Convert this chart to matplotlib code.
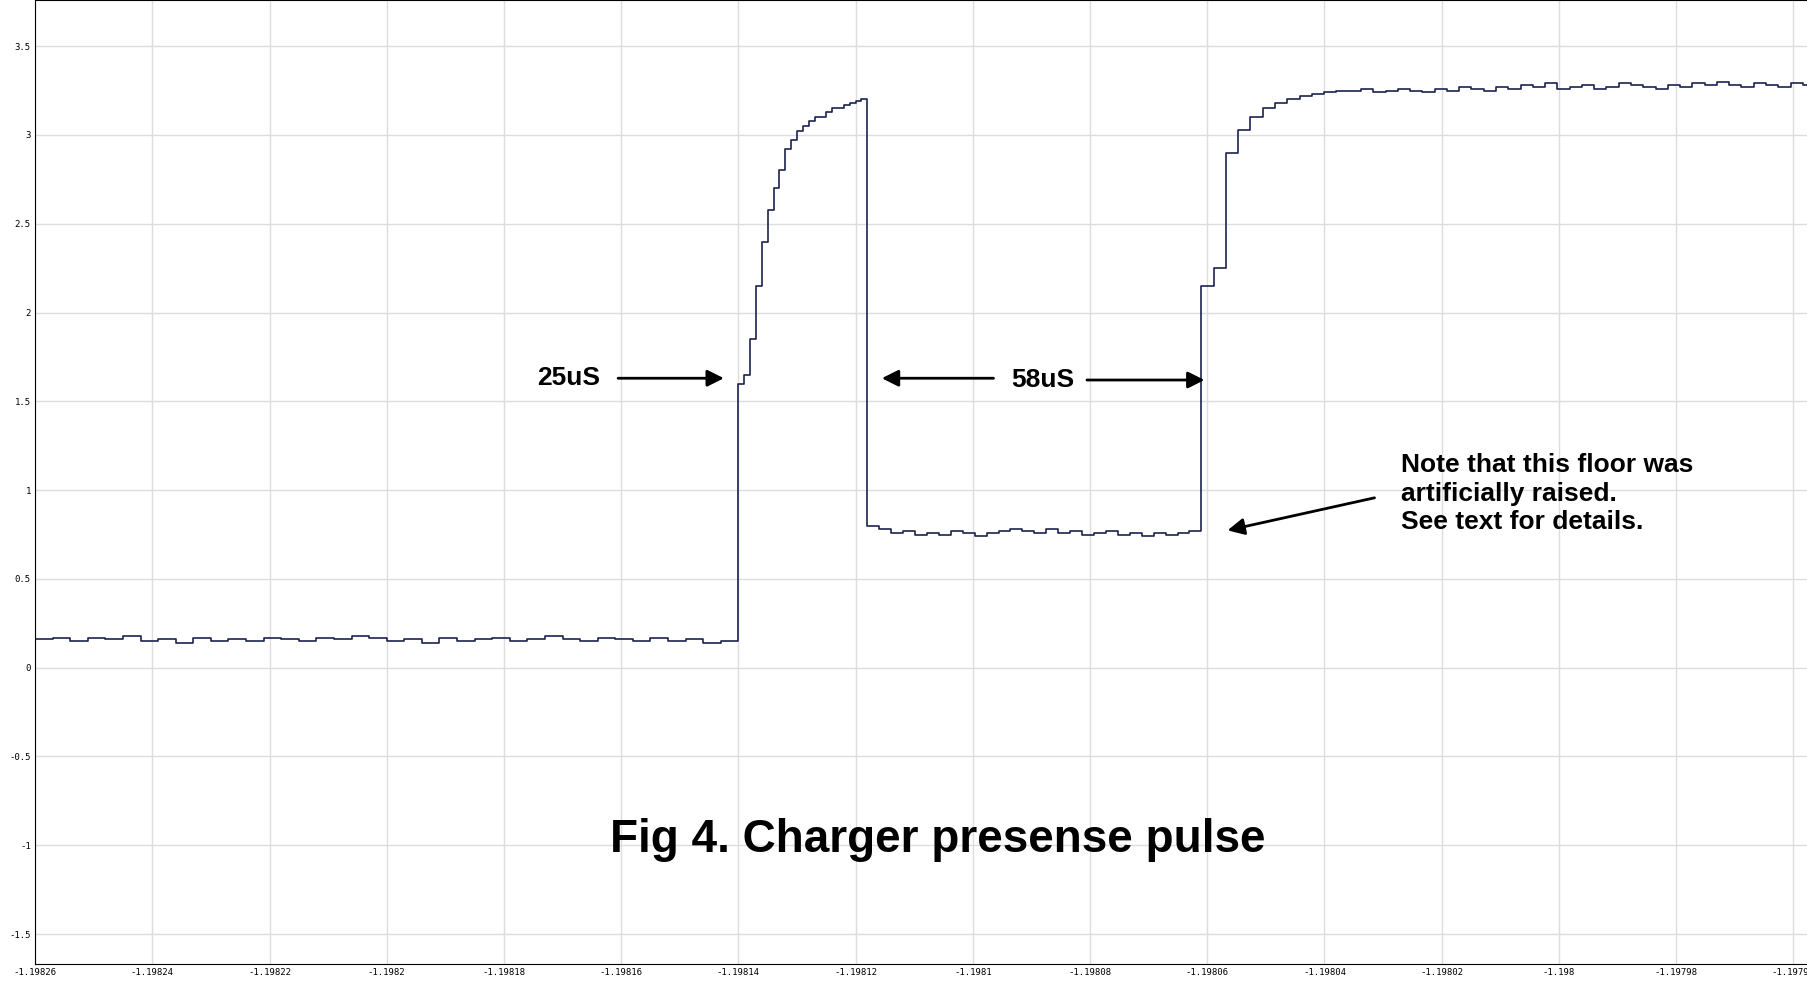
import numpy as np
import matplotlib.pyplot as plt

# edges of each section of the trace (seconds)
t_edges = [-1.19826, -1.19814, -1.198118, -1.198061, -1.19795]

# sampled voltages per section
low1 = [0.16, 0.17, 0.15, 0.17, 0.16, 0.18, 0.15, 0.16, 0.14, 0.17, 0.15, 0.16, 0.15, 0.17,
        0.16, 0.15, 0.17, 0.16, 0.18, 0.17, 0.15, 0.16, 0.14, 0.17, 0.15, 0.16, 0.17, 0.15,
        0.16, 0.18, 0.16, 0.15, 0.17, 0.16, 0.15, 0.17, 0.15, 0.16, 0.14, 0.15]
high1 = [1.6, 1.65, 1.85, 2.15, 2.4, 2.58, 2.7, 2.8, 2.92, 2.97, 3.02, 3.05, 3.08, 3.1,
         3.1, 3.13, 3.15, 3.15, 3.17, 3.18, 3.19, 3.2]
low2 = [0.8, 0.78, 0.76, 0.77, 0.75, 0.76, 0.75, 0.77, 0.76, 0.74, 0.76, 0.77, 0.78, 0.77,
        0.76, 0.78, 0.76, 0.77, 0.75, 0.76, 0.77, 0.75, 0.76, 0.74, 0.76, 0.75, 0.76, 0.77]
high2 = [2.15, 2.25, 2.9, 3.03, 3.1, 3.15, 3.18, 3.2, 3.22, 3.23, 3.24, 3.25, 3.25, 3.26,
         3.24, 3.25, 3.26, 3.25, 3.24, 3.26, 3.25, 3.27, 3.26, 3.25, 3.27, 3.26, 3.28, 3.27,
         3.29, 3.26, 3.27, 3.28, 3.26, 3.27, 3.29, 3.28, 3.27, 3.26, 3.28, 3.27, 3.29, 3.28,
         3.30, 3.28, 3.27, 3.29, 3.28, 3.27, 3.29, 3.28, 3.27, 3.29, 3.28]
sections = [low1, high1, low2, high2]

x_ticks = [-1.19826, -1.19824, -1.19822, -1.1982, -1.19818, -1.19816, -1.19814, -1.19812,
           -1.1981, -1.19808, -1.19806, -1.19804, -1.19802, -1.198, -1.19798, -1.19796]
x_tick_labels = ["-1.19826", "-1.19824", "-1.19822", "-1.1982", "-1.19818", "-1.19816",
                 "-1.19814", "-1.19812", "-1.1981", "-1.19808", "-1.19806", "-1.19804",
                 "-1.19802", "-1.198", "-1.19798", "-1.19796"]
y_ticks = [-1.5, -1, -0.5, 0, 0.5, 1, 1.5, 2, 2.5, 3, 3.5]

t_all, v_all = [], []
for i, vals in enumerate(sections):
    t = np.linspace(t_edges[i], t_edges[i + 1], len(vals), endpoint=False)
    t_all.extend(t)
    v_all.extend(vals)
t_all.append(t_edges[-1])
v_all.append(sections[-1][-1])

fig = plt.figure(figsize=(18.08, 9.91), dpi=100)
ax = fig.add_axes([0.0194, 0.027, 0.9806, 0.973])
ax.step(t_all, v_all, where="post", color="#1c2250", linewidth=1.2)

ax.set_xlim(-1.19826, -1.1979575)
ax.set_ylim(-1.67, 3.76)
ax.set_xticks(x_ticks)
ax.set_xticklabels(x_tick_labels, fontsize=6.5, family="DejaVu Sans Mono")
ax.set_yticks(y_ticks)
ax.set_yticklabels([("%g" % v) for v in y_ticks], fontsize=6.5, family="DejaVu Sans Mono")
ax.tick_params(length=0, pad=3)
ax.grid(True, color="#dddddd", linewidth=1)
for s in ax.spines.values():
    s.set_color("black")

bold = dict(family="Liberation Sans", weight="bold", color="black")
arrow = dict(arrowstyle="-|>", color="black", lw=2, mutation_scale=25)

ax.text(-1.198169, 1.63, "25uS", fontsize=19, ha="center", va="center", **bold)
ax.annotate("", xy=(-1.198142, 1.63), xytext=(-1.198161, 1.63), arrowprops=arrow)

ax.text(-1.198088, 1.62, "58uS", fontsize=19, ha="center", va="center", **bold)
ax.annotate("", xy=(-1.198116, 1.63), xytext=(-1.198096, 1.63), arrowprops=arrow)
ax.annotate("", xy=(-1.198060, 1.62), xytext=(-1.198081, 1.62), arrowprops=arrow)

ax.text(-1.198027, 1.21, "Note that this floor was\nartificially raised.\nSee text for details.",
        fontsize=19, ha="left", va="top", linespacing=1.25, **bold)
ax.annotate("", xy=(-1.198057, 0.77), xytext=(-1.198031, 0.96), arrowprops=arrow)

ax.text(-1.198106, -0.97, "Fig 4. Charger presense pulse", fontsize=33, ha="center",
        va="center", **bold)

fig.savefig("out.png", dpi=100)
